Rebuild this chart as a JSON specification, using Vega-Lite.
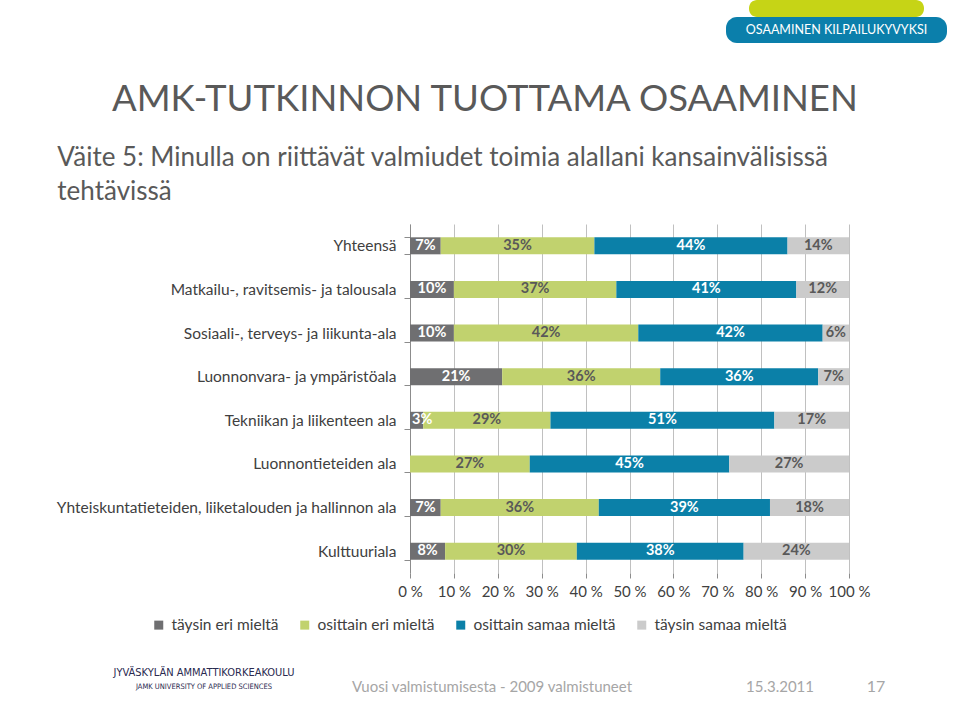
{
  "$schema": "https://vega.github.io/schema/vega-lite/v6.json",
  "background": "white",
  "padding": {"left": 56, "top": 0, "right": 0, "bottom": 0},
  "config": {
    "font": "Lato",
    "view": {"stroke": null},
    "concat": {"spacing": 0}
  },
  "spacing": 25,
  "vconcat": [
    {
      "bounds": "flush",
      "spacing": 0,
      "hconcat": [
        {
          "width": 316,
          "height": 43,
          "data": {"values": [{"t": ""}]},
          "mark": "text",
          "encoding": {"text": {"field": "t"}},
          "title": {
            "text": "AMK-TUTKINNON TUOTTAMA OSAAMINEN",
            "orient": "bottom",
            "anchor": "start",
            "frame": "group",
            "dx": -298,
            "offset": 39,
            "fontSize": 36.5,
            "fontWeight": "normal",
            "color": "#595959"
          }
        },
        {
          "vconcat": [
            {
              "width": 175,
              "height": 17,
              "view": {"fill": "#c6d416", "cornerRadius": 8, "stroke": null},
              "data": {"values": [{"t": ""}]},
              "mark": "text",
              "encoding": {"text": {"field": "t"}}
            },
            {
              "width": 221,
              "height": 26,
              "view": {"fill": "#0b7fab", "cornerRadius": 11, "stroke": null},
              "data": {"values": [{"label": "OSAAMINEN KILPAILUKYVYKSI"}]},
              "mark": {"type": "text", "color": "white", "fontSize": 12.5},
              "encoding": {"text": {"field": "label"}}
            }
          ],
          "center": true,
          "spacing": 0
        }
      ]
    },
    {
      "width": 439,
      "height": 349,
      "title": {
        "text": ["Väite 5: Minulla on riittävät valmiudet toimia alallani kansainvälisissä", "tehtävissä"],
        "anchor": "start",
        "frame": "bounds",
        "dx": 1,
        "offset": 12.5,
        "fontSize": 26,
        "fontWeight": "normal",
        "lineHeight": 34,
        "color": "#595959"
      },
      "data": {
        "values": [
          {"ala": "Yhteensä", "vastaus": "täysin eri mieltä", "arvo": 1, "osuus": 0.07},
          {"ala": "Yhteensä", "vastaus": "osittain eri mieltä", "arvo": 2, "osuus": 0.35},
          {"ala": "Yhteensä", "vastaus": "osittain samaa mieltä", "arvo": 3, "osuus": 0.44},
          {"ala": "Yhteensä", "vastaus": "täysin samaa mieltä", "arvo": 4, "osuus": 0.14},
          {"ala": "Matkailu-, ravitsemis- ja talousala", "vastaus": "täysin eri mieltä", "arvo": 1, "osuus": 0.10},
          {"ala": "Matkailu-, ravitsemis- ja talousala", "vastaus": "osittain eri mieltä", "arvo": 2, "osuus": 0.37},
          {"ala": "Matkailu-, ravitsemis- ja talousala", "vastaus": "osittain samaa mieltä", "arvo": 3, "osuus": 0.41},
          {"ala": "Matkailu-, ravitsemis- ja talousala", "vastaus": "täysin samaa mieltä", "arvo": 4, "osuus": 0.12},
          {"ala": "Sosiaali-, terveys- ja liikunta-ala", "vastaus": "täysin eri mieltä", "arvo": 1, "osuus": 0.10},
          {"ala": "Sosiaali-, terveys- ja liikunta-ala", "vastaus": "osittain eri mieltä", "arvo": 2, "osuus": 0.42},
          {"ala": "Sosiaali-, terveys- ja liikunta-ala", "vastaus": "osittain samaa mieltä", "arvo": 3, "osuus": 0.42},
          {"ala": "Sosiaali-, terveys- ja liikunta-ala", "vastaus": "täysin samaa mieltä", "arvo": 4, "osuus": 0.06},
          {"ala": "Luonnonvara- ja ympäristöala", "vastaus": "täysin eri mieltä", "arvo": 1, "osuus": 0.21},
          {"ala": "Luonnonvara- ja ympäristöala", "vastaus": "osittain eri mieltä", "arvo": 2, "osuus": 0.36},
          {"ala": "Luonnonvara- ja ympäristöala", "vastaus": "osittain samaa mieltä", "arvo": 3, "osuus": 0.36},
          {"ala": "Luonnonvara- ja ympäristöala", "vastaus": "täysin samaa mieltä", "arvo": 4, "osuus": 0.07},
          {"ala": "Tekniikan ja liikenteen ala", "vastaus": "täysin eri mieltä", "arvo": 1, "osuus": 0.03},
          {"ala": "Tekniikan ja liikenteen ala", "vastaus": "osittain eri mieltä", "arvo": 2, "osuus": 0.29},
          {"ala": "Tekniikan ja liikenteen ala", "vastaus": "osittain samaa mieltä", "arvo": 3, "osuus": 0.51},
          {"ala": "Tekniikan ja liikenteen ala", "vastaus": "täysin samaa mieltä", "arvo": 4, "osuus": 0.17},
          {"ala": "Luonnontieteiden ala", "vastaus": "täysin eri mieltä", "arvo": 1, "osuus": 0},
          {"ala": "Luonnontieteiden ala", "vastaus": "osittain eri mieltä", "arvo": 2, "osuus": 0.27},
          {"ala": "Luonnontieteiden ala", "vastaus": "osittain samaa mieltä", "arvo": 3, "osuus": 0.45},
          {"ala": "Luonnontieteiden ala", "vastaus": "täysin samaa mieltä", "arvo": 4, "osuus": 0.27},
          {"ala": "Yhteiskuntatieteiden, liiketalouden ja hallinnon ala", "vastaus": "täysin eri mieltä", "arvo": 1, "osuus": 0.07},
          {"ala": "Yhteiskuntatieteiden, liiketalouden ja hallinnon ala", "vastaus": "osittain eri mieltä", "arvo": 2, "osuus": 0.36},
          {"ala": "Yhteiskuntatieteiden, liiketalouden ja hallinnon ala", "vastaus": "osittain samaa mieltä", "arvo": 3, "osuus": 0.39},
          {"ala": "Yhteiskuntatieteiden, liiketalouden ja hallinnon ala", "vastaus": "täysin samaa mieltä", "arvo": 4, "osuus": 0.18},
          {"ala": "Kulttuuriala", "vastaus": "täysin eri mieltä", "arvo": 1, "osuus": 0.08},
          {"ala": "Kulttuuriala", "vastaus": "osittain eri mieltä", "arvo": 2, "osuus": 0.30},
          {"ala": "Kulttuuriala", "vastaus": "osittain samaa mieltä", "arvo": 3, "osuus": 0.38},
          {"ala": "Kulttuuriala", "vastaus": "täysin samaa mieltä", "arvo": 4, "osuus": 0.24}
        ]
      },
      "encoding": {
        "y": {
          "field": "ala",
          "type": "nominal",
          "sort": null,
          "scale": {"paddingInner": 0.61, "paddingOuter": 0.305},
          "axis": {
            "title": null,
            "labelFontSize": 15.5,
            "labelColor": "#404040",
            "labelPadding": 8,
            "labelLimit": 420,
            "tickSize": 6,
            "tickBand": "extent",
            "tickColor": "#8c8c8c",
            "domainColor": "#8c8c8c",
            "grid": false
          }
        },
        "order": {"field": "arvo", "type": "quantitative"}
      },
      "layer": [
        {
          "mark": {"type": "bar"},
          "encoding": {
            "x": {
              "field": "osuus",
              "type": "quantitative",
              "stack": "normalize",
              "scale": {"domain": [0, 1]},
              "axis": {
                "title": null,
                "values": [0, 0.1, 0.2, 0.3, 0.4, 0.5, 0.6, 0.7, 0.8, 0.9, 1],
                "labelExpr": "round(datum.value * 100) + ' %'",
                "labelOverlap": false,
                "labelFlush": false,
                "labelFontSize": 15,
                "labelColor": "#404040",
                "labelPadding": 6,
                "domain": false,
                "tickSize": 5,
                "tickColor": "#8c8c8c",
                "grid": true,
                "gridColor": "#c0c0c0"
              }
            },
            "color": {
              "field": "vastaus",
              "type": "nominal",
              "sort": ["täysin eri mieltä", "osittain eri mieltä", "osittain samaa mieltä", "täysin samaa mieltä"],
              "scale": {
                "domain": ["täysin eri mieltä", "osittain eri mieltä", "osittain samaa mieltä", "täysin samaa mieltä"],
                "range": ["#6f6f71", "#c1d26e", "#0b80a8", "#cbcbcb"]
              },
              "legend": {
                "title": null,
                "orient": "none",
                "legendX": -259,
                "legendY": 393,
                "direction": "horizontal",
                "symbolType": "square",
                "symbolSize": 81,
                "symbolStrokeWidth": 0,
                "labelFontSize": 15.5,
                "labelColor": "#404040",
                "labelOffset": 5,
                "columnPadding": 18
              }
            }
          }
        },
        {
          "mark": {"type": "text", "fontSize": 14.5, "fontWeight": "bold"},
          "encoding": {
            "x": {"field": "osuus", "type": "quantitative", "stack": "normalize", "bandPosition": 0.5},
            "text": {
              "condition": {"test": "datum.osuus < 0.05", "value": ""},
              "field": "osuus",
              "type": "quantitative",
              "format": ".0%"
            },
            "color": {
              "field": "vastaus",
              "type": "nominal",
              "sort": ["täysin eri mieltä", "osittain eri mieltä", "osittain samaa mieltä", "täysin samaa mieltä"],
              "scale": {
                "domain": ["täysin eri mieltä", "osittain eri mieltä", "osittain samaa mieltä", "täysin samaa mieltä"],
                "range": ["#ffffff", "#595959", "#ffffff", "#595959"]
              },
              "legend": null
            }
          }
        },
        {
          "mark": {"type": "text", "fontSize": 14.5, "fontWeight": "bold", "align": "left", "dx": 2, "color": "#ffffff"},
          "encoding": {
            "x": {"field": "osuus", "type": "quantitative", "stack": "normalize", "bandPosition": 0},
            "text": {
              "condition": {"test": "datum.osuus == 0 || datum.osuus >= 0.05", "value": ""},
              "field": "osuus",
              "type": "quantitative",
              "format": ".0%"
            },
            "detail": {"field": "vastaus", "type": "nominal"}
          }
        }
      ],
      "resolve": {"scale": {"color": "independent"}}
    },
    {
      "width": 500,
      "height": 40,
      "data": {
        "values": [
          {"kohta": "logo", "rivi": "1", "teksti": "JYVÄSKYLÄN AMMATTIKORKEAKOULU"},
          {"kohta": "logo", "rivi": "2", "teksti": "JAMK UNIVERSITY OF APPLIED SCIENCES"},
          {"kohta": "vuosi", "rivi": "2", "teksti": "Vuosi valmistumisesta - 2009 valmistuneet"},
          {"kohta": "pvm", "rivi": "2", "teksti": "15.3.2011"},
          {"kohta": "sivu", "rivi": "2", "teksti": "17"}
        ]
      },
      "encoding": {
        "x": {
          "field": "kohta",
          "type": "nominal",
          "scale": {"type": "point", "domain": ["logo", "_1", "_2", "vuosi", "_3", "_4", "pvm", "sivu"], "range": [-206, 466], "padding": 0},
          "axis": null
        },
        "y": {
          "field": "rivi",
          "type": "nominal",
          "scale": {"type": "point", "domain": ["1", "2"], "range": [14, 28], "padding": 0},
          "axis": null
        },
        "text": {"field": "teksti"}
      },
      "layer": [
        {
          "transform": [{"filter": "datum.rivi == '1'"}],
          "mark": {"type": "text", "font": "DejaVu Sans Condensed, Roboto, sans-serif", "fontSize": 11, "color": "#2a2a50"}
        },
        {
          "transform": [{"filter": "datum.kohta == 'logo' && datum.rivi == '2'"}],
          "mark": {"type": "text", "font": "DejaVu Sans Condensed, Roboto, sans-serif", "fontSize": 7.5, "color": "#2a2a50"}
        },
        {
          "transform": [{"filter": "datum.kohta == 'vuosi' || datum.kohta == 'pvm'"}],
          "mark": {"type": "text", "fontSize": 15, "color": "#a6a6a6"}
        },
        {
          "transform": [{"filter": "datum.kohta == 'sivu'"}],
          "mark": {"type": "text", "fontSize": 16, "color": "#a6a6a6"}
        }
      ]
    }
  ]
}
